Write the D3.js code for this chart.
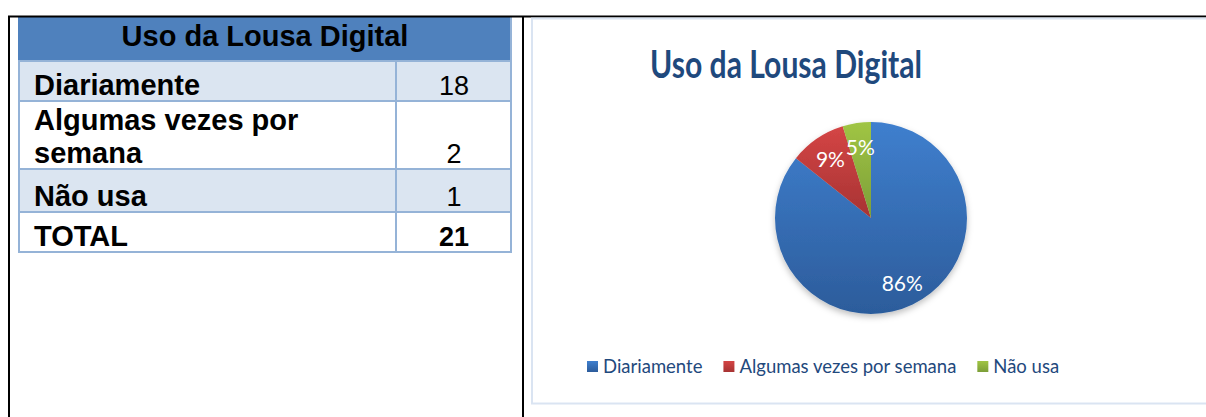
<!DOCTYPE html>
<html>
<head>
<meta charset="utf-8">
<title>Uso da Lousa Digital</title>
<script src="https://d3js.org/d3.v7.min.js"></script>
<style>
  html, body { margin: 0; padding: 0; background: #fff; }
  svg { display: block; }
</style>
</head>
<body>
<div id="chart"></div>
<script>
// dados
const categories = ['Diariamente', 'Algumas vezes por semana', 'Não usa']
const tableLabels = [['Diariamente'], ['Algumas vezes por', 'semana'], ['Não usa']]
const counts = [18, 2, 1]
const percentLabels = ['86%', '9%', '5%']   // como aparecem no gráfico
const tableTitle = 'Uso da Lousa Digital'
const chartTitle = 'Uso da Lousa Digital'
const totalLabel = 'TOTAL'

const W = 1206, H = 417
const svg = d3.select('#chart').append('svg')
  .attr('width', W).attr('height', H)

const defs = svg.append('defs')
const grads = [['#3f7fce', '#2c5c9b'], ['#d44545', '#a73333'], ['#a0c544', '#7c9e38']]
grads.forEach((g, i) => {
  const lg = defs.append('linearGradient').attr('id', 'g' + i)
    .attr('x1', 0).attr('y1', 0).attr('x2', 0).attr('y2', 1)
  lg.append('stop').attr('offset', '0%').attr('stop-color', g[0])
  lg.append('stop').attr('offset', '100%').attr('stop-color', g[1])
})
defs.append('filter').attr('id', 'shadow')
  .attr('x', '-20%').attr('y', '-20%').attr('width', '140%').attr('height', '140%')
  .append('feDropShadow')
  .attr('dx', 0).attr('dy', 3).attr('stdDeviation', 3)
  .attr('flood-color', '#000').attr('flood-opacity', 0.25)

// ---------- tabela da esquerda ----------
const tx0 = 18, tx1 = 512, colX = 396
const rowEdges = [17, 61, 101, 169, 212, 252]   // cabeçalho, 3 linhas, total
const rowFill = ['#4f81bd', '#dbe5f1', '#ffffff', '#dbe5f1', '#ffffff']
const tbl = svg.append('g').attr('font-family', 'Liberation Sans, Arial, sans-serif')

tbl.selectAll('rect.row')
  .data(rowFill)
  .enter().append('rect')
  .attr('class', 'row')
  .attr('x', tx0).attr('width', tx1 - tx0)
  .attr('y', (d, i) => rowEdges[i])
  .attr('height', (d, i) => rowEdges[i + 1] - rowEdges[i])
  .attr('fill', d => d)

// linhas da grade
const gridColor = '#95b3d7'
rowEdges.slice(1).forEach(y => {
  tbl.append('line').attr('x1', tx0).attr('x2', tx1).attr('y1', y).attr('y2', y)
    .attr('stroke', gridColor).attr('stroke-width', 2)
})
tbl.append('line').attr('x1', tx0 + 1).attr('x2', tx0 + 1).attr('y1', rowEdges[1]).attr('y2', rowEdges[5])
  .attr('stroke', gridColor).attr('stroke-width', 2)
tbl.append('line').attr('x1', tx1 - 1).attr('x2', tx1 - 1).attr('y1', rowEdges[0]).attr('y2', rowEdges[5])
  .attr('stroke', gridColor).attr('stroke-width', 2)
tbl.append('line').attr('x1', colX).attr('x2', colX).attr('y1', rowEdges[1]).attr('y2', rowEdges[5])
  .attr('stroke', gridColor).attr('stroke-width', 2)

tbl.append('text')
  .attr('x', (tx0 + tx1) / 2).attr('y', 46)
  .attr('text-anchor', 'middle').attr('font-weight', 'bold').attr('font-size', 29)
  .attr('fill', '#000').text(tableTitle)

const rows = counts.map((c, i) => ({ lines: tableLabels[i], value: c, bold: false }))
rows.push({ lines: [totalLabel], value: d3.sum(counts), bold: true })

rows.forEach((r, i) => {
  const bottom = rowEdges[i + 2]
  const base = bottom - 6
  r.lines.forEach((ln, j) => {
    tbl.append('text')
      .attr('x', 34).attr('y', base - (r.lines.length - 1 - j) * 33)
      .attr('font-weight', 'bold').attr('font-size', 29).attr('fill', '#000')
      .text(ln)
  })
  tbl.append('text')
    .attr('x', (colX + tx1) / 2).attr('y', base)
    .attr('text-anchor', 'middle')
    .attr('font-weight', r.bold ? 'bold' : 'normal').attr('font-size', 27).attr('fill', '#000')
    .text(r.value)
})

// ---------- bordas pretas ----------
svg.append('line').attr('x1', 8).attr('x2', W).attr('y1', 16.5).attr('y2', 16.5)
  .attr('stroke', '#000').attr('stroke-width', 2)
svg.append('line').attr('x1', 9).attr('x2', 9).attr('y1', 16).attr('y2', H)
  .attr('stroke', '#000').attr('stroke-width', 2)
svg.append('line').attr('x1', 523).attr('x2', 523).attr('y1', 16).attr('y2', H)
  .attr('stroke', '#000').attr('stroke-width', 2)

// ---------- gráfico de pizza ----------
svg.append('rect')
  .attr('x', 532).attr('y', 18.5).attr('width', W).attr('height', 385)
  .attr('fill', '#fff').attr('stroke', '#dae4f2').attr('stroke-width', 2)

const fc = 'Lato, Carlito, Calibri, sans-serif'
svg.append('text')
  .attr('x', 786).attr('y', 78)
  .attr('text-anchor', 'middle').attr('font-family', fc)
  .attr('font-weight', 'bold').attr('font-size', 38).attr('fill', '#1f497d')
  .attr('textLength', 272).attr('lengthAdjust', 'spacingAndGlyphs')
  .text(chartTitle)

const cx = 871, cy = 218, r = 96
const pie = d3.pie().sort(null).value(d => d)
const arcs = pie(counts)
const arc = d3.arc().innerRadius(0).outerRadius(r)
const labelArc = d3.arc().innerRadius(r * 0.5).outerRadius(r)

const pg = svg.append('g').attr('transform', `translate(${cx},${cy})`)
pg.append('g').attr('filter', 'url(#shadow)')
  .selectAll('path')
  .data(arcs)
  .enter().append('path')
  .attr('d', arc)
  .attr('fill', (d, i) => `url(#g${i})`)

pg.selectAll('text')
  .data(arcs)
  .enter().append('text')
  .attr('transform', d => `translate(${labelArc.centroid(d)})`)
  .attr('text-anchor', 'middle').attr('dy', '0.4em')
  .attr('font-family', fc).attr('font-size', 21).attr('fill', '#fff')
  .text((d, i) => percentLabels[i])

// legenda
const leg = svg.append('g').attr('font-family', fc).attr('font-size', 18.5).attr('fill', '#1f497d')
let lx = 587
categories.forEach((c, i) => {
  leg.append('rect').attr('x', lx).attr('y', 361).attr('width', 11).attr('height', 11)
    .attr('fill', `url(#g${i})`)
  const t = leg.append('text').attr('x', lx + 16).attr('y', 373).text(c)
  lx += 16 + t.node().getComputedTextLength() + 21
})
</script>
</body>
</html>
